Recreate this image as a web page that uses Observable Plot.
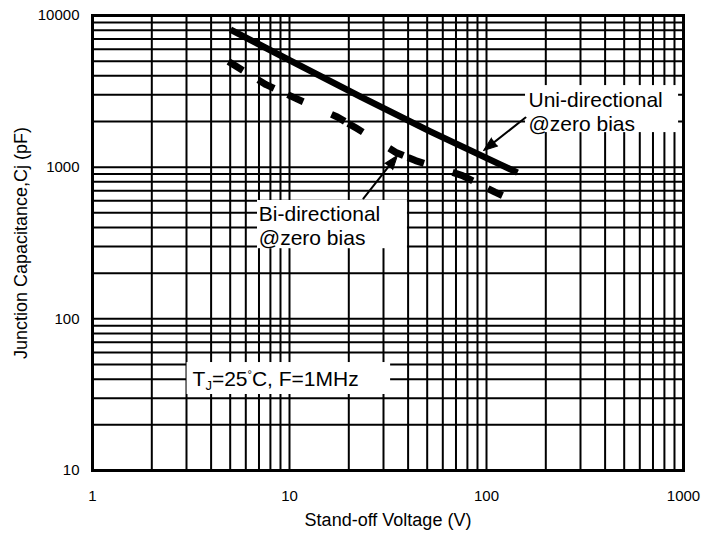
<!DOCTYPE html>
<html><head><meta charset="utf-8">
<script src="https://cdn.jsdelivr.net/npm/d3@7"></script>
<script src="https://cdn.jsdelivr.net/npm/@observablehq/plot@0.6"></script>
<style>body{margin:0;background:#fff;}</style>
</head><body><div id="chart"></div>
<script>
// ---- data ----
const uniV = [5.02, 10.1, 22.9, 52, 117.8, 143.7];
const uniC = [8075, 5040, 2920, 1717, 1040, 920];
const biV = [4.9, 7.6, 10.7, 17.5, 21.8, 34.7, 43.6, 75.5, 110.5, 120.6];
const biC = [4970, 3500, 2850, 2140, 1810, 1250, 1105, 880, 685, 650];

const xTicks = [1, 10, 100, 1000];
const yTicks = [10, 100, 1000, 10000];
const xGrid = [1,2,3,4,5,6,7,8,9,10,20,30,40,50,60,70,80,90,100,200,300,400,500,600,700,800,900,1000];
const yGrid = [10,20,30,40,50,60,70,80,90,100,200,300,400,500,600,700,800,900,1000,2000,3000,4000,5000,6000,7000,8000,9000,10000];

const xTitle = "Stand-off Voltage (V)";
const yTitle = "Junction Capacitance,Cj (pF)";

// annotations (data coordinates)
const noteText = ["Uni-directional", "@zero bias", "Bi-directional", "@zero bias"];
const noteV = [163.4, 163.4, 6.99, 6.99];
const noteC = [2778, 1930, 492, 342];
const condParts = ["T", "J", "=25", "°", "C, F=1MHz"];
const condV = [3.22];
const condC = [40.2];
const boxV1 = [157.8, 6.88, 3.02];
const boxV2 = [944, 39.7, 32.6];
const boxC1 = [3451, 603, 51.5];
const boxC2 = [1690, 290, 31.7];
const arrV1 = [157.8, 23.7];
const arrC1 = [2123, 621];
const arrV2 = [96.6, 35.3];
const arrC2 = [1286, 1193];
const arrAngle = [-128, 38];

const uni = uniV.map((v, i) => ({v, c: uniC[i]}));
const bi = biV.map((v, i) => ({v, c: biC[i]}));
const notes = noteText.map((t, i) => ({t, v: noteV[i], c: noteC[i]}));
const boxes = boxV1.map((v, i) => ({v1: v, v2: boxV2[i], c1: boxC1[i], c2: boxC2[i]}));
const arrows = arrV1.map((v, i) => ({v1: v, c1: arrC1[i], v2: arrV2[i], c2: arrC2[i], a: arrAngle[i]}));
const cond = condV.map((v, i) => ({t: condParts.join(""), v, c: condC[i]}));

const chart = Plot.plot({
  width: 719,
  height: 539,
  marginLeft: 92,
  marginRight: 36,
  marginTop: 15,
  marginBottom: 69,
  style: {fontFamily: "'Liberation Sans', Arial, sans-serif", background: "white", color: "black", fontSize: "15px"},
  x: {type: "log", domain: [1, 1000]},
  y: {type: "log", domain: [10, 10000]},
  marks: [
    Plot.ruleX(xGrid, {stroke: "black", strokeWidth: 2}),
    Plot.ruleY(yGrid, {stroke: "black", strokeWidth: 2}),
    Plot.rect(boxes, {x1: "v1", x2: "v2", y1: "c1", y2: "c2", fill: "white"}),
    Plot.line(uni, {x: "v", y: "c", stroke: "black", strokeWidth: 6.5, strokeLinecap: "butt"}),
    Plot.line(bi, {x: "v", y: "c", stroke: "black", strokeWidth: 7, strokeLinecap: "butt",
      strokeDasharray: "17,18,18,15,17,31,15,4,17,31,16,5,17,30,22,17,16,200"}),
    Plot.arrow(arrows, {x1: "v1", y1: "c1", x2: "v2", y2: "c2", stroke: "black", strokeWidth: 2, headLength: 0, insetEnd: 6}),
    Plot.vector(arrows, {x: "v2", y: "c2", rotate: "a", length: 14, shape: "spike", r: 5, anchor: "end", fill: "black", stroke: "black", strokeWidth: 1}),
    Plot.text(notes, {x: "v", y: "c", text: "t", textAnchor: "start", fontSize: 21, fill: "black"}),
    Plot.text(cond, {x: "v", y: "c", text: "t", textAnchor: "start", fontSize: 21, fill: "black", className: "condlabel"}),
    Plot.frame({stroke: "black", strokeWidth: 3}),
    Plot.axisX({ticks: xTicks, tickSize: 0, tickPadding: 20, tickFormat: d => String(d), fontSize: 15, label: null}),
    Plot.axisY({ticks: yTicks, tickSize: 0, tickPadding: 13, tickFormat: d => String(d), fontSize: 15, label: null}),
    Plot.text([xTitle], {frameAnchor: "bottom", textAnchor: "middle", dy: 55, fontSize: 18, fill: "black"}),
    Plot.text([yTitle], {frameAnchor: "left", textAnchor: "middle", dx: -71, rotate: -90, fontSize: 18, fill: "black"})
  ]
});

d3.select(chart).selectAll(".condlabel text").each(function() {
  const el = d3.select(this);
  el.text("");
  el.append("tspan").text(condParts[0]);
  el.append("tspan").attr("font-size", 13).attr("dy", 4).text(condParts[1]);
  el.append("tspan").attr("dy", -4).text(condParts[2]);
  el.append("tspan").attr("font-size", 11).attr("dy", -8).text(condParts[3]);
  el.append("tspan").attr("dy", 8).text(condParts[4]);
});

document.getElementById("chart").appendChild(chart);
</script>
</body></html>
